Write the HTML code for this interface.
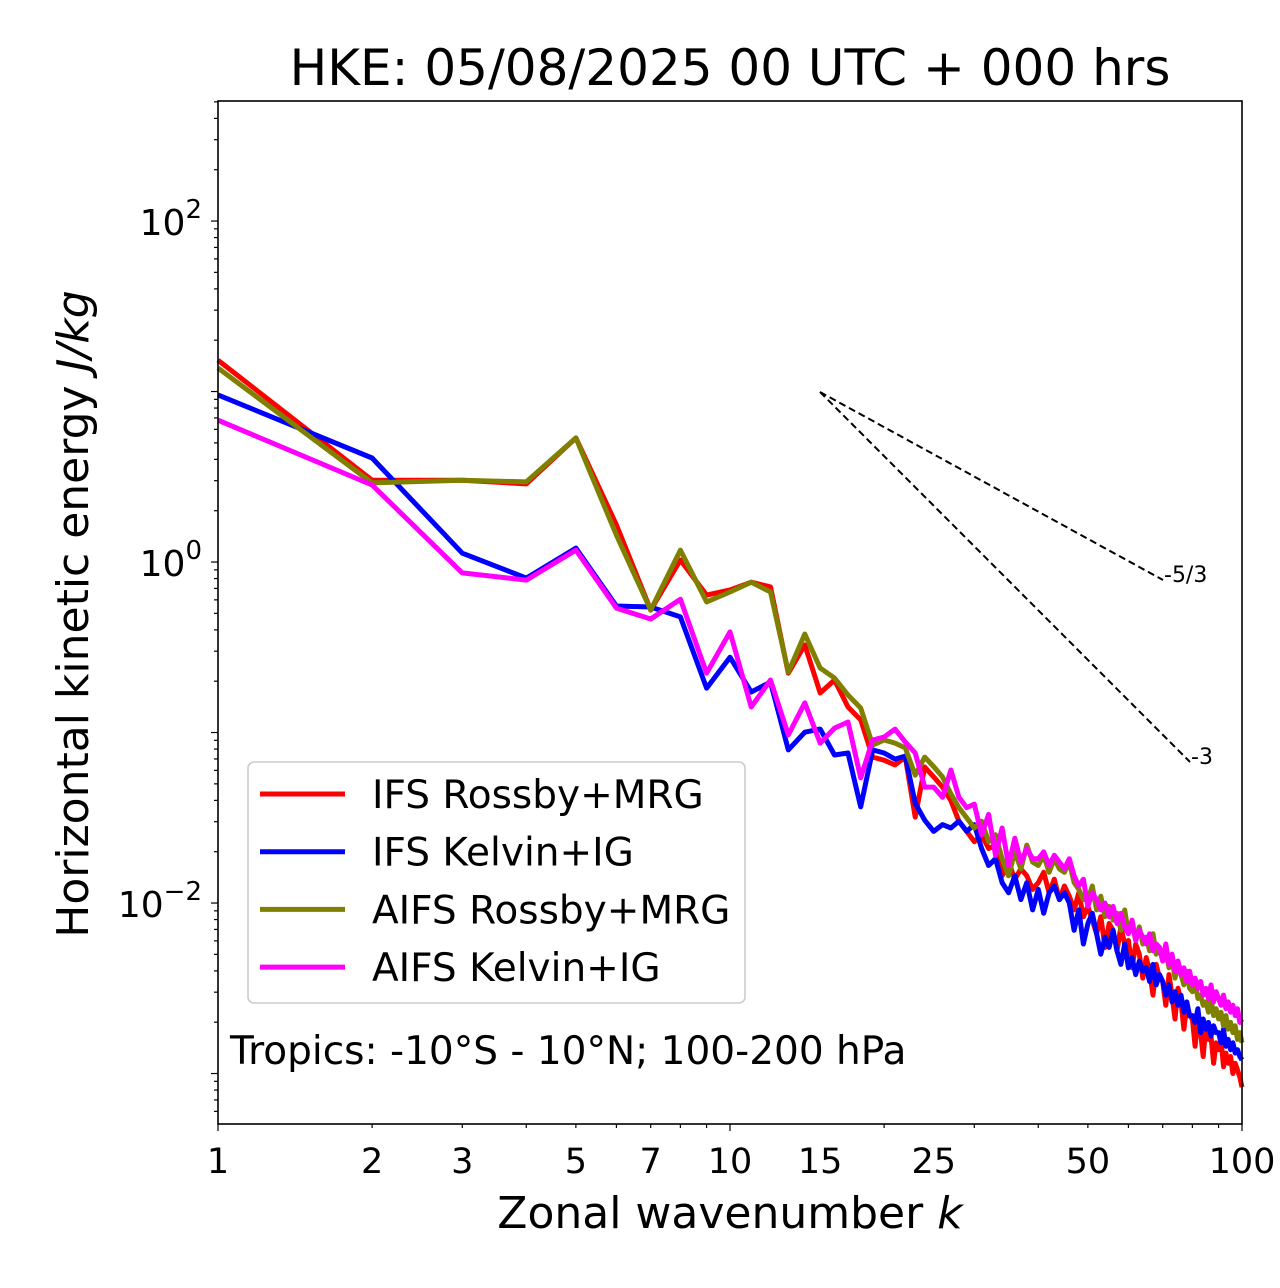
<!DOCTYPE html>
<html><head><meta charset="utf-8"><style>
html,body{margin:0;padding:0;background:#fff;}
svg{display:block;font-family:"Liberation Sans","DejaVu Sans",sans-serif;}
</style></head><body>
<svg id="chart" width="1280" height="1288" viewBox="0 0 1280 1288" xmlns="http://www.w3.org/2000/svg">
<rect width="1280" height="1288" fill="#fff"/>
<text x="730" y="85" font-size="50" text-anchor="middle" font-family="DejaVu Sans, sans-serif">HKE: 05/08/2025 00 UTC + 000 hrs</text>
<g id="ticks"></g>
<g id="series"></g>
<g id="refs"></g>
<rect x="218" y="101" width="1024" height="1023" fill="none" stroke="#000" stroke-width="1.6"/>
<text x="730" y="1228" font-size="44" text-anchor="middle" font-family="DejaVu Sans, sans-serif">Zonal wavenumber <tspan font-style="italic">k</tspan></text>
<text transform="translate(88,614) rotate(-90)" font-size="44" text-anchor="middle" font-family="DejaVu Sans, sans-serif">Horizontal kinetic energy <tspan font-style="italic">J/kg</tspan></text>
<g>
<rect x="248" y="762" width="497" height="241" rx="6" fill="#fff" fill-opacity="0.85" stroke="#ccc" stroke-width="1.6"/>
<g id="legend-items"></g>
</g>
<text x="230" y="1064" font-size="39" font-family="DejaVu Sans, sans-serif">Tropics: -10°S - 10°N; 100-200 hPa</text>
</svg>
<script>
// log10 of energy (J/kg) for k = 1..100
const ifsRossbyLog = [1.184,0.480,0.480,0.458,0.728,0.218,-0.282,0.012,-0.194,-0.164,-0.118,-0.146,-0.652,-0.486,-0.768,-0.692,-0.850,-0.926,-1.144,-1.162,-1.190,-1.144,-1.496,-1.202,
-1.26,-1.32,-1.40,-1.52,-1.58,-1.64,-1.60,-1.68,-1.66,-1.84,-1.76,-1.86,-1.80,-1.84,-1.92,-1.88,-1.82,-1.94,-1.86,-1.98,-1.90,-1.96,-2.04,-1.94,-2.08,-2.02,-2.10,-2.18,-2.08,-2.26,-2.12,-2.16,-2.28,-2.14,-2.24,-2.22,-2.38,-2.24,-2.30,-2.44,-2.32,-2.40,-2.54,-2.36,-2.44,-2.46,-2.60,-2.42,-2.54,-2.68,-2.50,-2.58,-2.74,-2.60,-2.66,-2.68,-2.84,-2.66,-2.76,-2.90,-2.72,-2.80,-2.78,-2.94,-2.82,-2.86,-2.80,-2.96,-2.88,-2.94,-2.90,-3.00,-2.94,-2.98,-3.02,-3.08];
const ifsKelvinLog = [0.980,0.610,0.052,-0.094,0.082,-0.258,-0.264,-0.322,-0.740,-0.558,-0.762,-0.704,-1.102,-0.998,-0.980,-1.132,-1.120,-1.436,-1.102,-1.120,-1.156,-1.138,-1.414,-1.514,
-1.58,-1.54,-1.56,-1.52,-1.58,-1.54,-1.68,-1.78,-1.74,-1.88,-1.94,-1.84,-1.98,-1.88,-2.04,-1.92,-2.06,-1.94,-1.90,-1.98,-1.94,-2.00,-2.16,-2.04,-2.24,-2.12,-2.06,-2.18,-2.30,-2.20,-2.26,-2.16,-2.28,-2.36,-2.24,-2.38,-2.32,-2.42,-2.34,-2.40,-2.38,-2.46,-2.36,-2.48,-2.42,-2.46,-2.54,-2.48,-2.58,-2.52,-2.60,-2.54,-2.64,-2.58,-2.66,-2.66,-2.70,-2.62,-2.76,-2.68,-2.74,-2.70,-2.78,-2.72,-2.76,-2.76,-2.82,-2.74,-2.84,-2.80,-2.86,-2.82,-2.88,-2.86,-2.90,-2.92];
const aifsRossbyLog = [1.138,0.464,0.480,0.470,0.728,0.158,-0.282,0.070,-0.234,-0.176,-0.118,-0.176,-0.646,-0.422,-0.622,-0.680,-0.780,-0.856,-1.074,-1.044,-1.062,-1.090,-1.250,-1.144,
-1.20,-1.26,-1.36,-1.44,-1.50,-1.56,-1.52,-1.64,-1.60,-1.74,-1.84,-1.70,-1.80,-1.66,-1.76,-1.78,-1.72,-1.82,-1.74,-1.80,-1.82,-1.76,-1.88,-1.92,-1.98,-1.98,-1.90,-2.04,-1.96,-2.08,-2.02,-2.10,-2.06,-2.16,-2.04,-2.18,-2.12,-2.22,-2.14,-2.24,-2.20,-2.28,-2.18,-2.30,-2.26,-2.34,-2.28,-2.38,-2.32,-2.44,-2.36,-2.42,-2.48,-2.40,-2.50,-2.52,-2.46,-2.56,-2.54,-2.60,-2.58,-2.64,-2.56,-2.66,-2.62,-2.68,-2.64,-2.72,-2.66,-2.74,-2.70,-2.76,-2.72,-2.80,-2.76,-2.82];
const aifsKelvinLog = [0.832,0.452,-0.064,-0.106,0.070,-0.270,-0.334,-0.218,-0.652,-0.410,-0.850,-0.692,-1.014,-0.826,-1.062,-0.974,-0.938,-1.266,-1.044,-1.026,-0.980,-1.056,-1.120,-1.320,
-1.32,-1.38,-1.22,-1.38,-1.44,-1.42,-1.60,-1.48,-1.72,-1.56,-1.78,-1.62,-1.76,-1.68,-1.74,-1.74,-1.70,-1.78,-1.72,-1.76,-1.80,-1.74,-1.84,-1.90,-1.86,-2.02,-1.94,-1.98,-2.04,-2.00,-2.08,-2.02,-2.12,-2.06,-2.14,-2.18,-2.10,-2.22,-2.16,-2.20,-2.24,-2.18,-2.28,-2.24,-2.26,-2.34,-2.24,-2.36,-2.30,-2.40,-2.34,-2.42,-2.38,-2.46,-2.40,-2.48,-2.44,-2.50,-2.46,-2.54,-2.50,-2.56,-2.48,-2.58,-2.52,-2.56,-2.60,-2.54,-2.62,-2.58,-2.64,-2.60,-2.66,-2.62,-2.70,-2.68];
const seriesNames = ["IFS Rossby+MRG","IFS Kelvin+IG","AIFS Rossby+MRG","AIFS Kelvin+IG"];
const seriesColors = ["#ff0000","#0000ff","#808000","#ff00ff"];
const xTickLabels = [1,2,3,5,7,10,15,25,50,100];
const yTickExps = [-2,0,2];

const NS="http://www.w3.org/2000/svg";
const X0=218,X1=1242,Y0=101,Y1=1124;
const xScale=k=>X0+Math.log10(k)/2*(X1-X0);
const yMin=-3.296,yMax=2.704;
const yScale=l=>Y1-(l-yMin)/(yMax-yMin)*(Y1-Y0);
function mk(tag,attrs,parent){const e=document.createElementNS(NS,tag);for(const a in attrs)e.setAttribute(a,attrs[a]);parent.appendChild(e);return e;}

const ticks=document.getElementById('ticks');
for(let d=0;d<2;d++)for(let m=1;m<10;m++){
  const x=xScale(m*Math.pow(10,d));const len=m===1?7:4;
  const t=mk('line',{x1:x,x2:x,y1:Y1,y2:Y1+len,stroke:'#000','stroke-width':1.2},ticks);
  
  
}
{const t=mk('line',{x1:X1,x2:X1,y1:Y1,y2:Y1+7,stroke:'#000','stroke-width':1.2},ticks);

}
xTickLabels.forEach(v=>{
  const t=mk('text',{x:xScale(v),y:1173,'font-size':35,'text-anchor':'middle','font-family':'DejaVu Sans, sans-serif'},ticks);
  t.textContent=v;
  
  
});
for(let d=-4;d<=2;d++)for(let m=1;m<10;m++){
  const l=d+Math.log10(m);if(l<yMin||l>yMax)continue;
  const y=yScale(l);const len=m===1?7:4;
  const t=mk('line',{x1:X0-len,x2:X0,y1:y,y2:y,stroke:'#000','stroke-width':1.2},ticks);
  
  
}
yTickExps.forEach(e=>{
  const t=mk('text',{x:202,y:yScale(e)+14,'font-size':36,'text-anchor':'end','font-family':'DejaVu Sans, sans-serif'},ticks);
  
  
  t.innerHTML='10<tspan dy="-17" font-size="26">'+(e<0?'\u2212'+(-e):e)+'</tspan>';
});

const seriesG=document.getElementById('series');
[ifsRossbyLog,ifsKelvinLog,aifsRossbyLog,aifsKelvinLog].forEach((arr,i)=>{
  const pts=arr.map((v,j)=>xScale(j+1).toFixed(1)+','+yScale(v).toFixed(1)).join(' ');
  const p=mk('polyline',{points:pts,fill:'none',stroke:seriesColors[i],'stroke-width':5,'stroke-linejoin':'round'},seriesG);
  
  
});

const refs=document.getElementById('refs');
[[1163,580,'-5/3'],[1190,762,'-3']].forEach(r=>{
  const l=mk('line',{x1:820,y1:392,x2:r[0],y2:r[1],stroke:'#000','stroke-width':2,'stroke-dasharray':'7,4'},refs);
  
  
  const t=mk('text',{x:r[0]+1,y:r[1]+2,'font-size':22,'font-family':'DejaVu Sans, sans-serif'},refs);
  t.textContent=r[2];
  
  
});

const lg=document.getElementById('legend-items');
seriesNames.forEach((n,i)=>{
  const y=794+i*57.7;
  const l=mk('line',{x1:260,x2:345,y1:y,y2:y,stroke:seriesColors[i],'stroke-width':5},lg);
  
  
  const t=mk('text',{x:372,y:y+14,'font-size':39,'font-family':'DejaVu Sans, sans-serif'},lg);
  t.textContent=n;
  
  
});
</script>
</body></html>
